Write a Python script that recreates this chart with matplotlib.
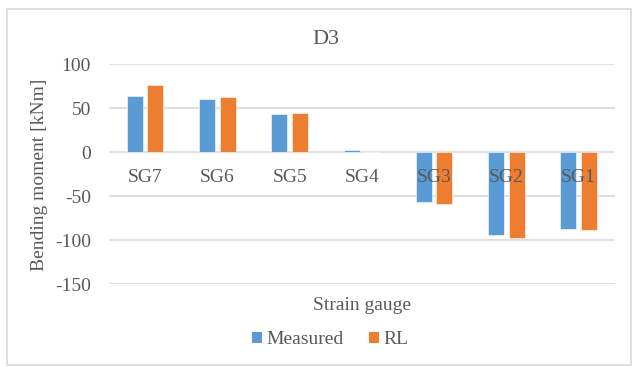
import matplotlib
matplotlib.use("Agg")
import matplotlib.pyplot as plt
from matplotlib.patches import Rectangle, Patch
import numpy as np

categories = ["SG7", "SG6", "SG5", "SG4", "SG3", "SG2", "SG1"]
measured = [64.3, 60.6, 43.5, 2.6, -56.3, -93.8, -86.8]
rl = [76.5, 63.2, 44.7, 0.0, -58.6, -97.5, -87.9]
series_names = ["Measured", "RL"]
yticks = [100, 50, 0, -50, -100, -150]

blue = "#5B9BD5"
orange = "#ED7D31"
grid = "#D9D9D9"
txt = "#595959"

plt.rcParams['font.family'] = ['Liberation Serif', 'DejaVu Serif']

W, H = 638, 367
fig = plt.figure(figsize=(W / 100, H / 100), dpi=100)

def fx(px):
    return px / W

def fy(py):
    return 1 - py / H

# outer border
fig.patches.append(Rectangle((fx(7), fy(365)), fx(631) - fx(7), fy(9) - fy(365),
                             transform=fig.transFigure, fill=False,
                             edgecolor=grid, linewidth=1.2))

left, right = 109, 614.7
top, bottom = 64.3, 284.3
ax = fig.add_axes([fx(left), fy(bottom), fx(right) - fx(left), fy(top) - fy(bottom)])

x = np.arange(len(categories))
bw = 0.22
off = 0.142
ax.bar(x - off, measured, bw, color=blue, edgecolor="white", linewidth=0.4, zorder=3, label=series_names[0])
ax.bar(x + off, rl, bw, color=orange, edgecolor="white", linewidth=0.4, zorder=3, label=series_names[1])

ax.set_xlim(-0.5, len(categories) - 0.5)
ax.set_ylim(-150, 100)
ax.set_yticks(yticks)
ax.set_yticklabels([str(v) for v in yticks], fontsize=14, color=txt)
ax.tick_params(axis="y", length=0, pad=13)
ax.set_xticks([])
for s in ax.spines.values():
    s.set_visible(False)
for v in yticks:
    ax.axhline(v, color=grid, linewidth=1.2, zorder=1)

for i, c in enumerate(categories):
    ax.annotate(c, xy=(i, 0), xytext=(0, -18), textcoords="offset points",
                ha="center", va="center", fontsize=14, color=txt, zorder=5)

fig.text(fx(326), fy(39), "D3", ha="center", va="center", fontsize=16, color=txt)
fig.text(fx(40), fy(175), "Bending moment [kNm]", ha="center", va="center",
         rotation=90, fontsize=14, color=txt)
fig.text(fx(362), fy(305), "Strain gauge", ha="center", va="center", fontsize=14, color=txt)

handles = [Patch(facecolor=blue), Patch(facecolor=orange)]
fig.legend(handles, series_names, loc="center", bbox_to_anchor=(fx(330), fy(340)),
           ncol=2, frameon=False, fontsize=14, handlelength=0.55, handleheight=0.55,
           handletextpad=0.2, columnspacing=1.3, labelcolor=txt)

fig.savefig("out.png", dpi=100)
